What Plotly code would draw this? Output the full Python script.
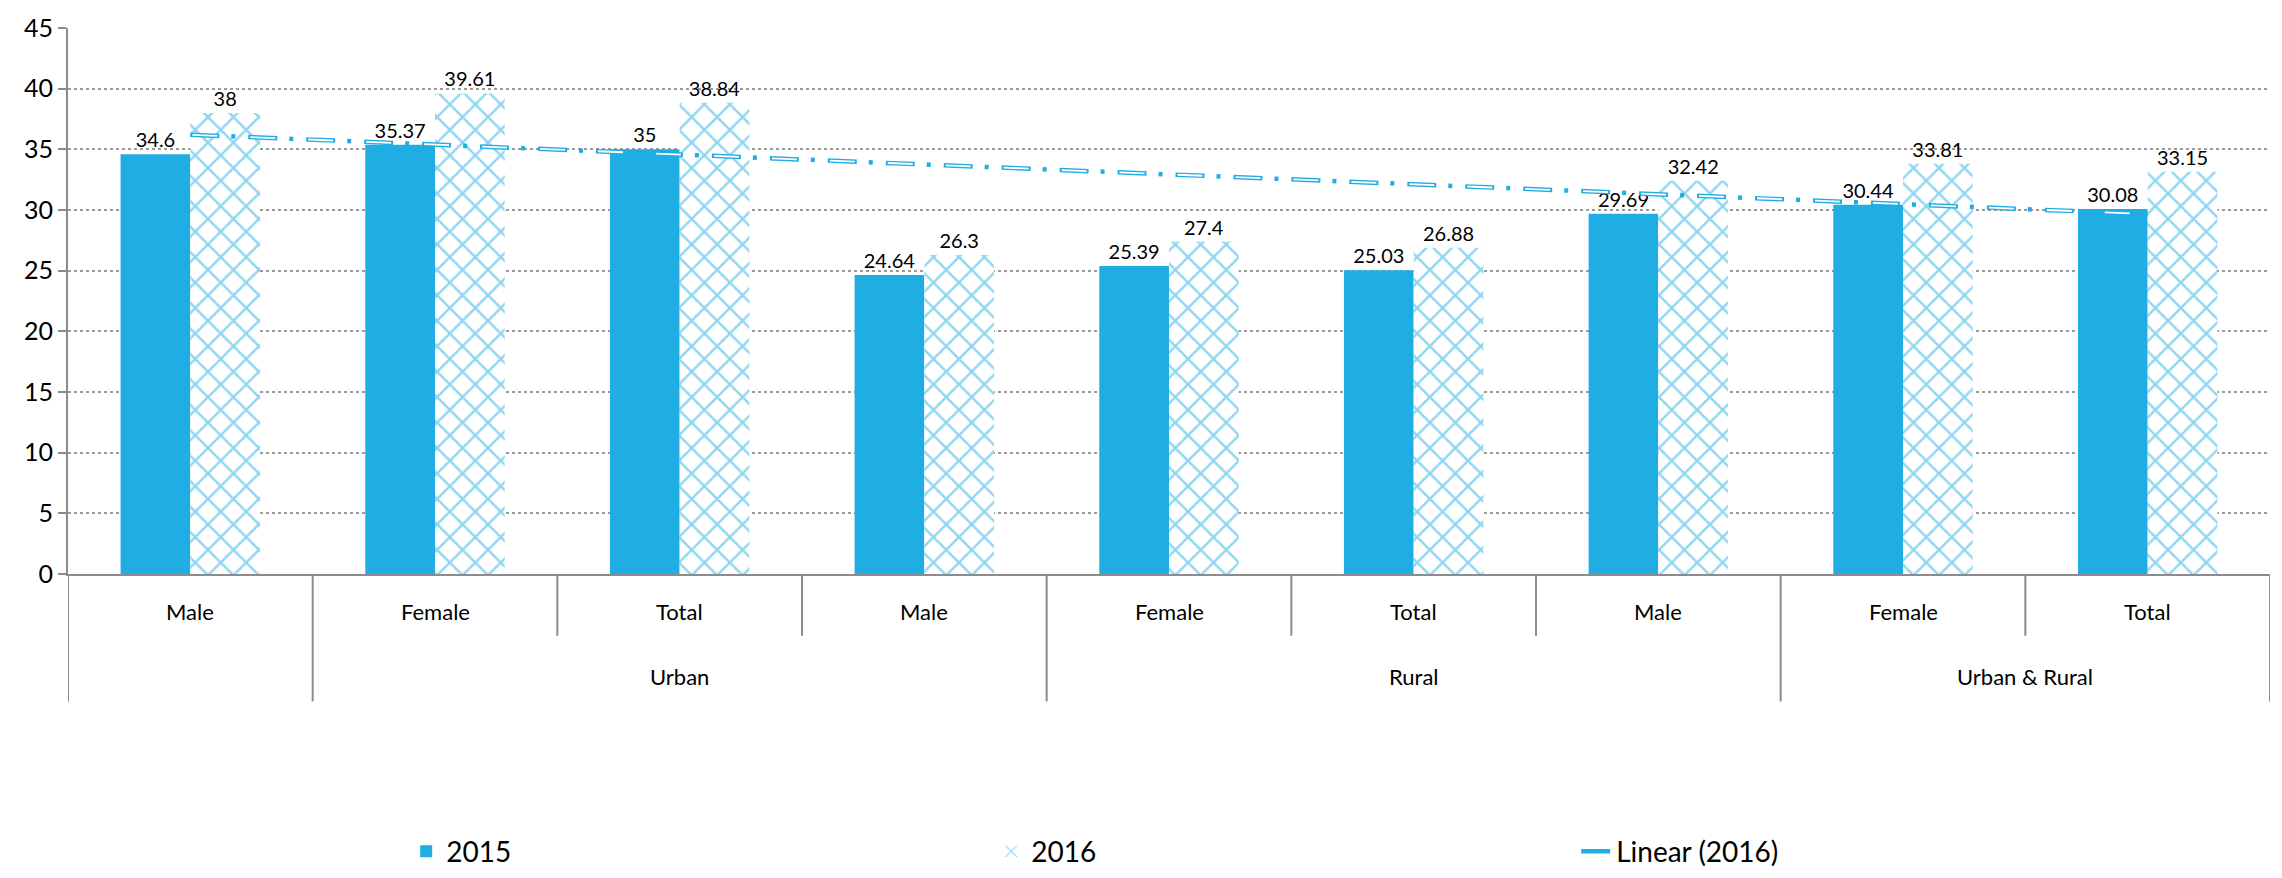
import numpy as np
import plotly.graph_objects as go

# ---- data ----
groups = ["", "Urban", "Urban", "Urban", "Rural", "Rural", "Rural", "Urban & Rural", "Urban & Rural"]
categories = ["Male", "Female", "Total", "Male", "Female", "Total", "Male", "Female", "Total"]
values_2015 = [34.6, 35.37, 35, 24.64, 25.39, 25.03, 29.69, 30.44, 30.08]
values_2016 = [38, 39.61, 38.84, 26.3, 27.4, 26.88, 32.42, 33.81, 33.15]
y_ticks = [0, 5, 10, 15, 20, 25, 30, 35, 40, 45]

BLUE = "#1FADE3"
AXIS = "#8C8C8C"
FONT = "Lato"

n = len(categories)
pos = list(range(n))

# linear trend of 2016 series
idx = np.arange(1, n + 1)
slope, intercept = np.polyfit(idx, values_2016, 1)
trend = list(slope * idx + intercept)

fig = go.Figure()
fig.add_trace(go.Bar(
    x=pos, y=values_2015, name="2015",
    marker=dict(color=BLUE, line=dict(width=0)),
    text=[f"{v:g}" for v in values_2015], textposition="outside",
    textfont=dict(size=20, color="#000000", family=FONT),
    cliponaxis=False,
))
fig.add_trace(go.Bar(
    x=pos, y=values_2016, name="2016",
    marker=dict(color="white", line=dict(width=0),
                pattern=dict(shape="x", fgcolor=BLUE, bgcolor="white",
                             size=18, solidity=0.25)),
    text=[f"{v:g}" for v in values_2016], textposition="outside",
    textfont=dict(size=20, color="#000000", family=FONT),
    cliponaxis=False,
))
fig.add_trace(go.Scatter(
    x=pos, y=trend, mode="lines", name="Linear (2016)",
    line=dict(color=BLUE, width=4.5, dash="29px,12px,4px,13px"),
))
fig.add_trace(go.Scatter(
    x=pos, y=trend, mode="lines", showlegend=False, hoverinfo="skip",
    line=dict(color="white", width=1.8, dash="0px,2px,25px,31px"),
))

# ---- category axis drawn from the category lists ----
plot_h = 878 - 17 - 304
def py(px_below):
    return -px_below / plot_h

shapes = []
annotations = []
for i in range(n + 1):
    b = i - 0.5
    long_line = i == 0 or i == n or groups[i] != groups[i - 1]
    shapes.append(dict(type="line", xref="x", yref="paper", x0=b, x1=b,
                       y0=0, y1=py(130 if long_line else 63),
                       line=dict(color=AXIS, width=2)))
for i, c in enumerate(categories):
    annotations.append(dict(x=i, y=py(38), xref="x", yref="paper", text=c,
                            showarrow=False, font=dict(size=22, family=FONT),
                            xanchor="center", yanchor="middle"))
start = 0
for i in range(1, n + 1):
    if i == n or groups[i] != groups[start]:
        if groups[start].strip():
            annotations.append(dict(x=(start + i - 1) / 2, y=py(105), xref="x", yref="paper",
                                    text=groups[start], showarrow=False,
                                    font=dict(size=22, family=FONT),
                                    xanchor="center", yanchor="middle"))
        start = i

fig.update_layout(
    width=2282, height=878,
    margin=dict(l=68, r=12, t=17, b=304),
    paper_bgcolor="white", plot_bgcolor="white",
    barmode="group", bargap=0.43, bargroupgap=0,
    font=dict(family=FONT, color="#000000", size=20),
    showlegend=True,
    shapes=shapes, annotations=annotations,
    legend=dict(orientation="h", xref="container", yref="container",
                x=0.178, y=0.03, xanchor="left", yanchor="middle",
                entrywidth=540, entrywidthmode="pixels",
                font=dict(size=28, family=FONT), itemwidth=30),
)
fig.update_yaxes(
    range=[0, 45], tickvals=y_ticks,
    showgrid=True, gridcolor="#9A9A9A", griddash="dot", gridwidth=1.5,
    showline=True, linecolor=AXIS, linewidth=2,
    ticks="outside", ticklen=8, tickcolor=AXIS, tickwidth=2,
    tickfont=dict(size=25, family=FONT), zeroline=False,
)
fig.update_xaxes(
    range=[-0.5, n - 0.5], showticklabels=False, ticks="",
    showline=True, linecolor=AXIS, linewidth=2,
    showgrid=False, zeroline=False,
)

fig.write_html("out.html")
